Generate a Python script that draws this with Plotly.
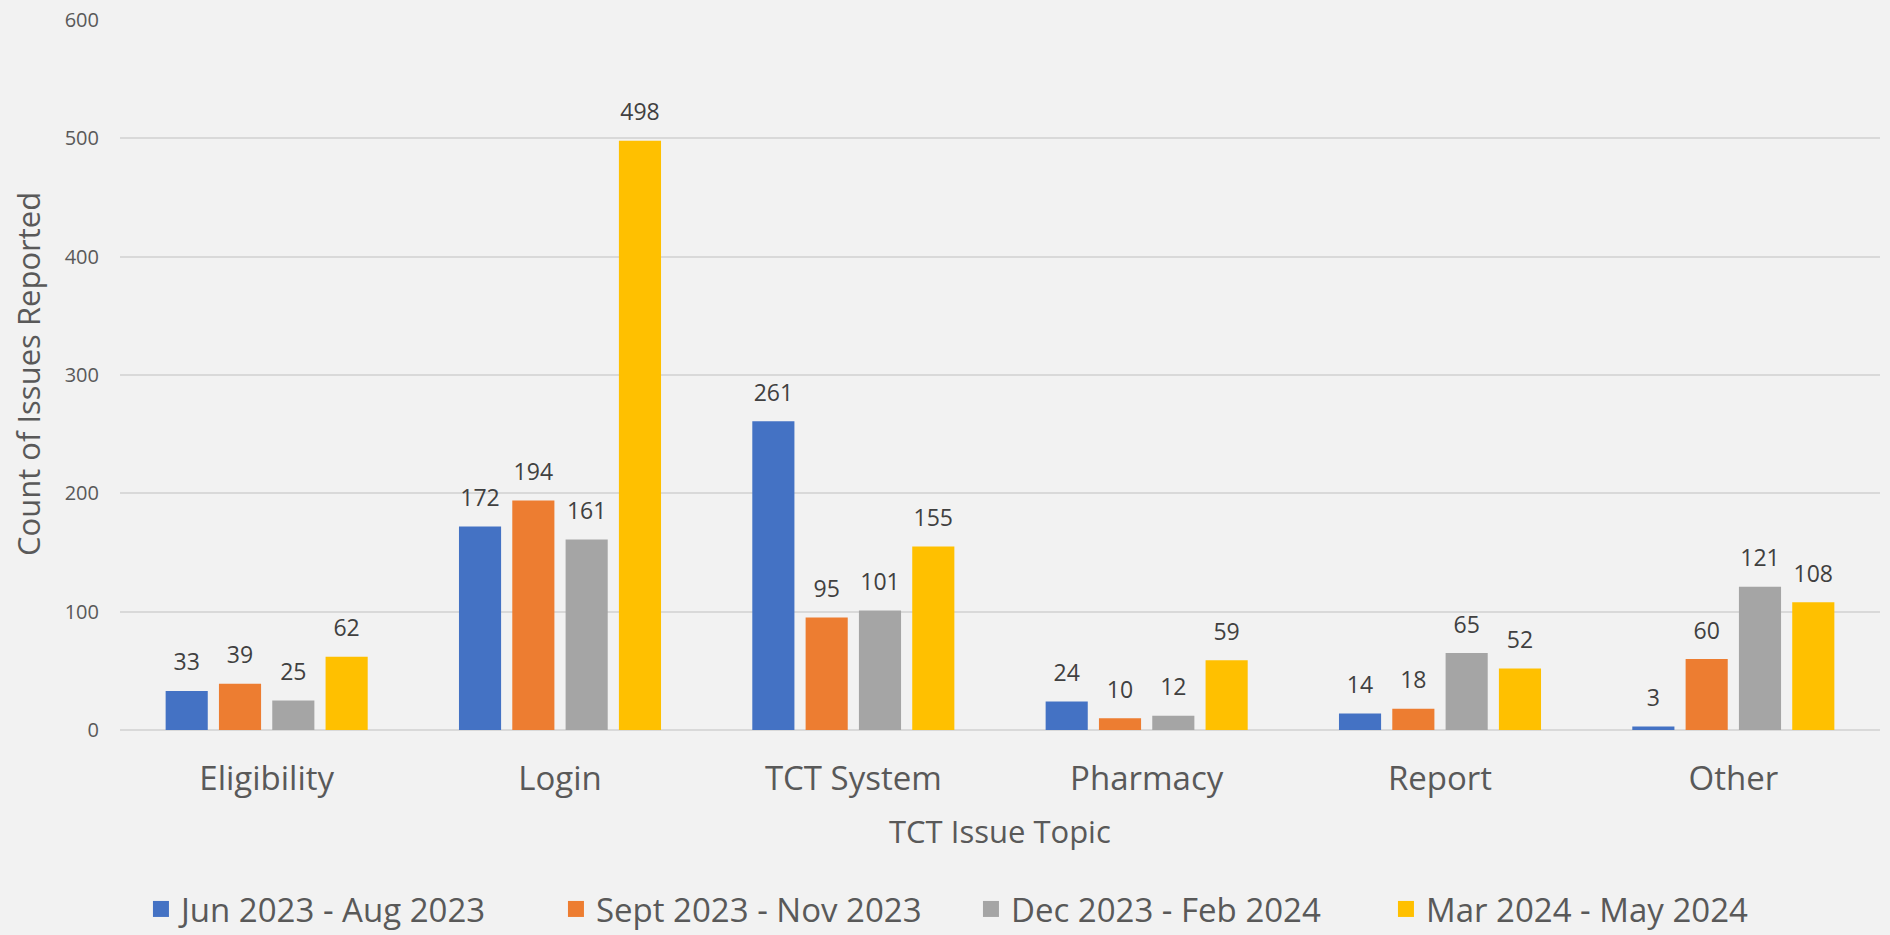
import plotly.graph_objects as go

categories = ["Eligibility", "Login", "TCT System", "Pharmacy", "Report", "Other"]
series_names = ["Jun 2023 - Aug 2023", "Sept 2023 - Nov 2023", "Dec 2023 - Feb 2024", "Mar 2024 - May 2024"]
jun_aug_2023 = [33, 172, 261, 24, 14, 3]
sep_nov_2023 = [39, 194, 95, 10, 18, 60]
dec_feb_2024 = [25, 161, 101, 12, 65, 121]
mar_may_2024 = [62, 498, 155, 59, 52, 108]
y_ticks = [0, 100, 200, 300, 400, 500, 600]

series_values = [jun_aug_2023, sep_nov_2023, dec_feb_2024, mar_may_2024]
colors = ["#4472C4", "#ED7D31", "#A5A5A5", "#FFC000"]

FONT = "Open Sans"
BARGAP = 0.273

fig = go.Figure()
for name, vals, col in zip(series_names, series_values, colors):
    fig.add_trace(go.Bar(x=categories, y=vals, name=name, marker=dict(color=col, line=dict(width=0)),
                         showlegend=False, offsetgroup=name))
for name, vals, col in zip(series_names, series_values, colors):
    fig.add_trace(go.Scatter(x=categories, y=vals, mode="markers+text", text=[str(v) for v in vals],
                             textposition="top center", offsetgroup=name,
                             marker=dict(size=22, opacity=0, color=col),
                             textfont=dict(family=FONT, size=23, color="#404040"),
                             showlegend=False, hoverinfo="skip", cliponaxis=False))
# legend entries
for name, col in zip(series_names, colors):
    fig.add_trace(go.Scatter(x=[None], y=[None], mode="markers", name=name,
                             marker=dict(symbol="square", size=20, color=col)))

plot_l, plot_r, plot_t, plot_b = 120, 1880, 20, 730

fig.update_layout(
    width=1890, height=935,
    paper_bgcolor="#F2F2F2", plot_bgcolor="#F2F2F2",
    margin=dict(l=plot_l, r=1890 - plot_r, t=plot_t, b=935 - plot_b, autoexpand=False),
    barmode="group", bargap=BARGAP, bargroupgap=0.21,
    scattermode="group", scattergap=BARGAP,
    font=dict(family=FONT, color="#595959"),
    legend=dict(orientation="h", x=0.4835, xanchor="center", y=-(909 - plot_b) / (plot_b - plot_t),
                yanchor="middle",
                font=dict(family=FONT, size=33, color="#595959"), entrywidth=370,
                bgcolor="rgba(0,0,0,0)", itemclick=False),
    xaxis=dict(showgrid=False, showline=False, zeroline=False, ticks="",
               tickfont=dict(family=FONT, size=33, color="#595959"), ticklabelstandoff=26,
               automargin=False),
    yaxis=dict(range=[0, 600], tickvals=y_ticks, showgrid=True, gridcolor="#D9D9D9", gridwidth=2,
               zeroline=True, zerolinecolor="#D9D9D9", zerolinewidth=2, showline=False, ticks="",
               tickfont=dict(family=FONT, size=20, color="#595959"), ticklabelstandoff=20,
               automargin=False),
    annotations=[
        dict(text="TCT Issue Topic", x=0.5, xref="paper", y=(plot_b - 831) / (plot_b - plot_t), yref="paper",
             showarrow=False, font=dict(family=FONT, size=31, color="#595959"),
             yanchor="middle", xanchor="center"),
        dict(text="Count of Issues Reported", x=(28 - plot_l) / (plot_r - plot_l), xref="paper",
             y=(plot_b - 374) / (plot_b - plot_t), yref="paper", showarrow=False,
             textangle=-90, font=dict(family=FONT, size=31, color="#595959"),
             yanchor="middle", xanchor="center"),
    ],
)

fig.write_html("out.html", config={"displayModeBar": False},
               post_script="document.body.style.margin='0';document.body.style.overflow='hidden';")
